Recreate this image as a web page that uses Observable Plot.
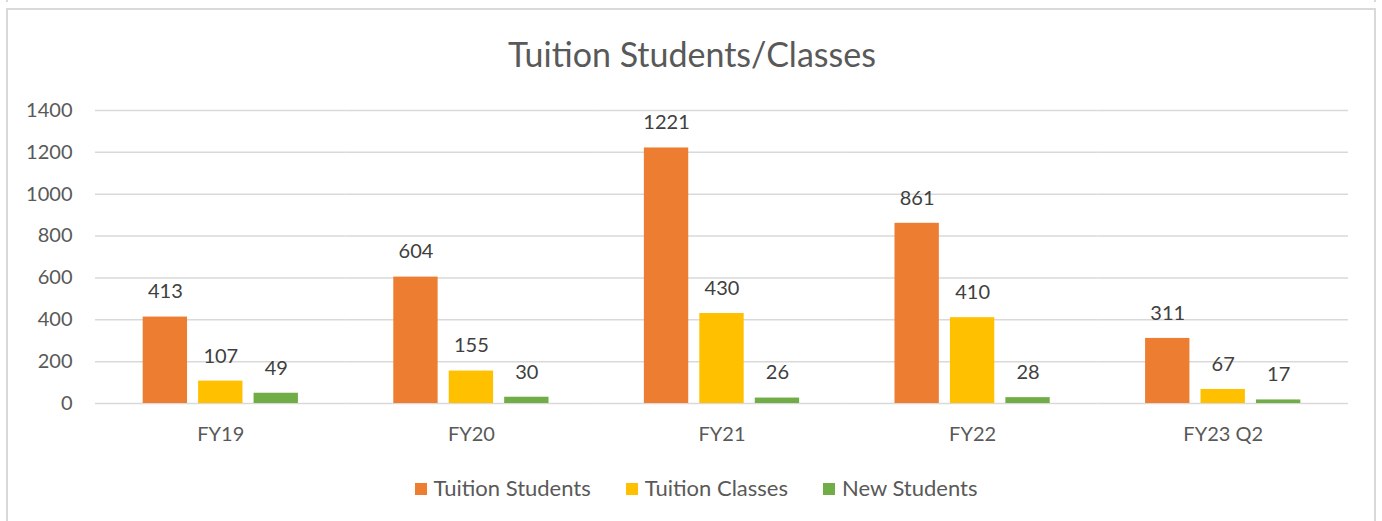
<!DOCTYPE html>
<html><head><meta charset="utf-8">
<script src="https://cdn.jsdelivr.net/npm/d3@7"></script>
<script src="https://cdn.jsdelivr.net/npm/@observablehq/plot@0.6"></script>
<style>
body{margin:0;background:#fff;font-family:Lato,"Open Sans",sans-serif;width:1382px;height:521px;overflow:hidden;position:relative}
#frame{position:absolute;left:6px;top:8px;width:1370px;height:530px;border:2px solid #d9d9d9;box-sizing:border-box}
#topline{position:absolute;left:6px;top:0;width:1370px;height:2px;border-left:2px solid #d9d9d9;border-right:2px solid #d9d9d9;box-sizing:border-box}
#title{position:absolute;top:33px;left:0;width:1384px;text-align:center;font-size:34px;color:#595959}
#chart{position:absolute;left:0;top:0}
#legend{position:absolute;top:474px;left:0;width:1392px;display:flex;justify-content:center;gap:35px;font-size:22px;color:#595959}
#legend span.sw{display:inline-block;width:12px;height:12px;margin-right:7px;vertical-align:middle;position:relative;top:-1px}
</style></head>
<body>
<div id="topline"></div>
<div id="frame"></div>
<div id="title">Tuition Students/Classes</div>
<div id="chart"></div>
<div id="legend"></div>
<script>
const categories = ["FY19","FY20","FY21","FY22","FY23 Q2"];
const seriesNames = ["Tuition Students","Tuition Classes","New Students"];
const tuitionStudents = [413,604,1221,861,311];
const tuitionClasses = [107,155,430,410,67];
const newStudents = [49,30,26,28,17];
const yTicks = [0,200,400,600,800,1000,1200,1400];
const colors = ["#ED7D31","#FFC000","#70AD47"];

const seriesValues = [tuitionStudents, tuitionClasses, newStudents];
const data = [];
categories.forEach((c,i)=>seriesNames.forEach((s,j)=>data.push({cat:c, series:s, value:seriesValues[j][i]})));

const plot = Plot.plot({
  width:1382, height:450,
  marginTop:110, marginBottom:47, marginLeft:95, marginRight:34,
  style:{fontFamily:"Lato, 'Open Sans', sans-serif", background:"transparent", color:"#595959"},
  fx:{domain:categories, padding:0, label:null, round:false},
  x:{domain:seriesNames, paddingInner:0.2, paddingOuter:0.86, axis:null, round:false},
  y:{domain:[0,1400], axis:null},
  color:{domain:seriesNames, range:colors},
  marks:[
    Plot.ruleY(yTicks, {stroke:"#d9d9d9", strokeWidth:1.5}),
    Plot.barY(data, {fx:"cat", x:"series", y:"value", fill:"series"}),
    Plot.text(data, {fx:"cat", x:"series", y:"value", text:d=>String(d.value), dy:-25, fontSize:20, fill:"#404040"}),
    Plot.axisY({ticks:yTicks, tickFormat:d=>String(d), tickSize:0, tickPadding:23, fontSize:20, label:null, facetAnchor:"left", fill:"#595959"}),
    Plot.axisFx({anchor:"bottom", tickSize:0, tickPadding:23, fontSize:20, label:null, fill:"#595959"})
  ]
});
document.getElementById("chart").appendChild(plot);

const lg = document.getElementById("legend");
seriesNames.forEach((s,j)=>{
  const d = document.createElement("div");
  d.innerHTML = `<span class="sw" style="background:${colors[j]}"></span>${s}`;
  lg.appendChild(d);
});
</script>
</body></html>
